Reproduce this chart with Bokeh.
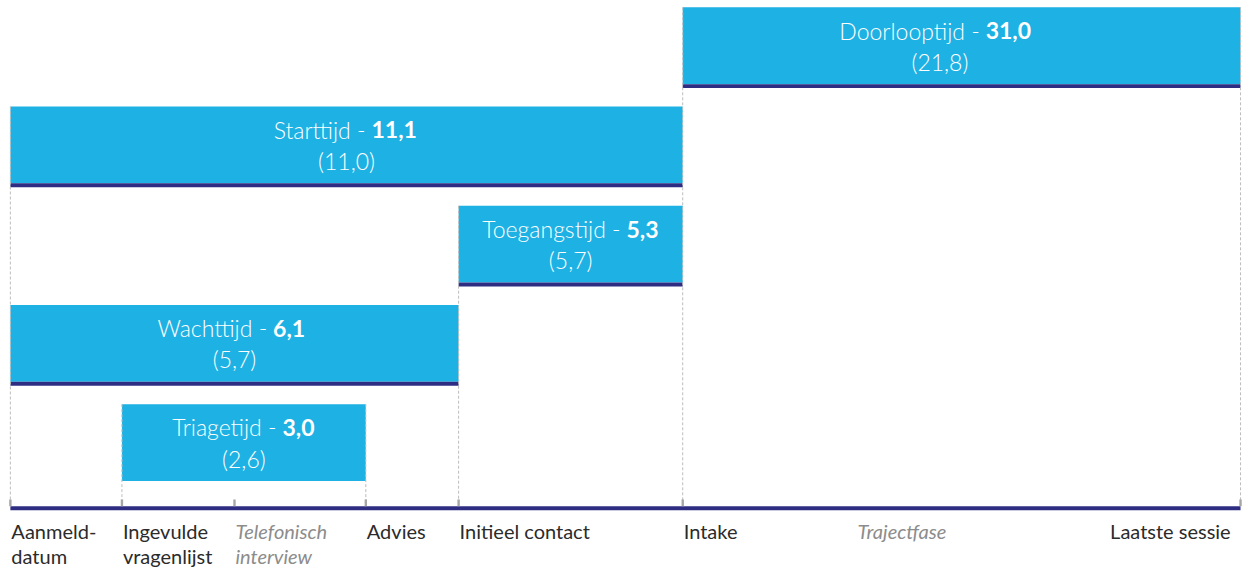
from bokeh.plotting import figure
from bokeh.models import Range1d
from bokeh.core.properties import value
from bokeh.embed import file_html
from bokeh.resources import INLINE

# ---- data ----
milestone_line1 = ["Aanmeld-", "Ingevulde", "Telefonisch", "Advies", "Initieel contact", "Intake", "Laatste sessie"]
milestone_line2 = ["datum", "vragenlijst", "interview", "", "", "", ""]
milestone_x = [10, 123, 237, 370, 464, 691, 1256]
milestone_italic = [False, False, True, False, False, False, False]
phase_label = "Trajectfase"
phase_x = 868

bar_names = ["Triagetijd", "Wachttijd", "Toegangstijd", "Starttijd", "Doorlooptijd"]
bar_mean = [3.0, 6.1, 5.3, 11.1, 31.0]
bar_median = [2.6, 5.7, 5.7, 11.0, 21.8]
bar_from = [1, 0, 4, 0, 5]
bar_to = [3, 4, 5, 5, 6]
bar_level = [1, 2, 3, 4, 5]
bar_underline = [False, True, True, True, True]

# ---- style / layout ----
BLUE = "#1EB1E3"
NAVY = "#2E2D82"
TICK = "#A6A6A6"
DASH = "#BDBDBD"
LIGHT = "Lato Light"
FONT = "Lato"
AXIS_Y = 520
BASE = 517
ROW_GAP = 102
BAR_H = 79
UL_H = 4
BAR_FS = 23
AX_FS = 20
PW, PH = 1243, 568
PX = PW / 1259.0
WF = 0.93
TEXT_SHIFT = {"Doorlooptijd": -22}

W = {' ': 278, '(': 333, ')': 333, ',': 278, '-': 333, 'A': 667, 'D': 722, 'I': 278, 'L': 556,
     'S': 667, 'T': 611, 'W': 944, 'a': 556, 'c': 500, 'd': 556, 'e': 556, 'f': 278, 'g': 556,
     'h': 556, 'i': 222, 'j': 222, 'k': 500, 'l': 222, 'm': 833, 'n': 556, 'o': 556, 'p': 556,
     'r': 333, 's': 500, 't': 278, 'u': 556, 'v': 500, 'w': 722}


def est(s, fs):
    return sum(W.get(c, 556) for c in s) / 1000.0 * fs * WF


def fmt(v):
    return f"{v:.1f}".replace(".", ",")


p = figure(width=PW, height=PH, output_backend="svg", toolbar_location=None,
           x_range=Range1d(0, 1259), y_range=Range1d(584, 0),
           x_axis_type=None, y_axis_type=None, min_border=0)
p.grid.visible = False
p.outline_line_color = None
p.background_fill_color = "white"

# bars
lefts = [milestone_x[i] for i in bar_from]
rights = [milestone_x[i] for i in bar_to]
tops = [BASE - ROW_GAP * lv for lv in bar_level]
bots = [t + BAR_H for t in tops]
p.quad(left=lefts, right=rights, top=tops, bottom=bots, fill_color=BLUE, line_color=None)

ul_l = [l for l, u in zip(lefts, bar_underline) if u]
ul_r = [r for r, u in zip(rights, bar_underline) if u]
ul_t = [b for b, u in zip(bots, bar_underline) if u]
p.quad(left=ul_l, right=ul_r, top=ul_t, bottom=[t + UL_H for t in ul_t], fill_color=NAVY, line_color=None)

# dashed guide lines
for i, x in enumerate(milestone_x):
    cand = [tops[k] for k in range(len(bar_names)) if bar_from[k] == i or bar_to[k] == i]
    if cand:
        p.segment(x0=[x], y0=[min(cand)], x1=[x], y1=[AXIS_Y], line_color=DASH, line_width=1, line_dash="3 2")

# axis line + ticks
p.quad(left=[milestone_x[0]], right=[milestone_x[-1]], top=[AXIS_Y], bottom=[AXIS_Y + 4], fill_color=NAVY, line_color=None)
p.quad(left=[x - 1.2 for x in milestone_x], right=[x + 1.2 for x in milestone_x],
       top=[AXIS_Y - 7] * len(milestone_x), bottom=[AXIS_Y] * len(milestone_x), fill_color=TICK, line_color=None)

# bar texts
for k, name in enumerate(bar_names):
    cx = (lefts[k] + rights[k]) / 2.0 + TEXT_SHIFT.get(name, 0)
    lab = name + " -"
    val = fmt(bar_mean[k])
    wl = est(lab + " ", BAR_FS)
    wv = est(val, BAR_FS)
    split = cx + ((wl - wv) / 2.0) / PX
    sp = est(" ", BAR_FS) / PX
    p.text(x=[split - sp], y=[tops[k] + 24], text=[lab], text_align="right", text_baseline="middle",
           text_color="white", text_font=value(LIGHT), text_font_size=f"{BAR_FS}px")
    p.text(x=[split], y=[tops[k] + 24], text=[val], text_align="left", text_baseline="middle",
           text_color="white", text_font=value(FONT), text_font_size=f"{BAR_FS}px", text_font_style="bold")
    p.text(x=[cx], y=[tops[k] + 56], text=["(" + fmt(bar_median[k]) + ")"], text_align="center",
           text_baseline="middle", text_color="white", text_font=value(LIGHT), text_font_size=f"{BAR_FS}px")

# axis labels
for i, x in enumerate(milestone_x):
    last = i == len(milestone_x) - 1
    color = "#8C8C8C" if milestone_italic[i] else "#2B2B2B"
    style = "italic" if milestone_italic[i] else "normal"
    tx = x - 10 if last else x + 1
    align = "right" if last else "left"
    for line, yy in ((milestone_line1[i], 545), (milestone_line2[i], 571)):
        if line:
            p.text(x=[tx], y=[yy], text=[line], text_align=align, text_baseline="middle",
                   text_color=color, text_font=value(FONT), text_font_size=f"{AX_FS}px", text_font_style=style)

p.text(x=[phase_x], y=[545], text=[phase_label], text_align="left", text_baseline="middle",
       text_color="#8C8C8C", text_font=value(FONT), text_font_size=f"{AX_FS}px", text_font_style="italic")

open("out.html", "w").write(file_html(p, INLINE))
